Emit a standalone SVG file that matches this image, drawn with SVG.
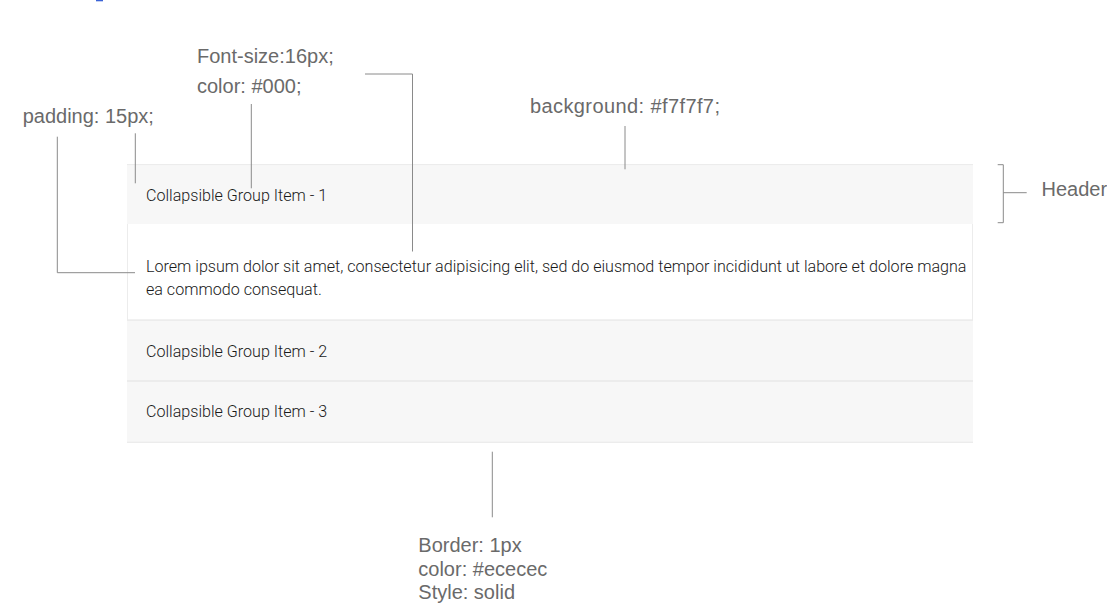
<svg xmlns="http://www.w3.org/2000/svg" width="1107" height="605" viewBox="0 0 1107 605">
<style>
.hdr{fill:#f7f7f7;}
.bd{fill:#ececec;}
.item{font-family:Roboto,"Liberation Sans",sans-serif;font-size:16.1px;font-weight:300;fill:#1a1a1a;}
.note{font-family:"Liberation Sans",Arial,sans-serif;font-size:20px;fill:#6a6a6a;}
.ln{stroke:#8a8a8a;stroke-width:1;fill:none;}
</style>
<rect x="96" y="0" width="7" height="1.3" fill="#3b63d6"/>
<g id="panel">
  <rect x="127" y="164" width="846" height="279" fill="#ffffff"/>
  <g id="item1-header">
    <rect class="bd" x="127" y="164" width="846" height="1.5"/>
    <rect class="hdr" x="127" y="165.5" width="846" height="58.5"/>
    <text class="item" x="146" y="200.5">Collapsible Group Item - 1</text>
  </g>
  <g id="item1-body">
    <rect class="bd" x="127" y="224" width="1" height="96"/>
    <rect class="bd" x="972" y="224" width="1" height="96"/>
    <text class="item" x="146" y="272">Lorem ipsum dolor sit amet, consectetur adipisicing elit, sed do eiusmod tempor incididunt ut labore et dolore magna</text>
    <text class="item" x="146" y="294.5">ea commodo consequat.</text>
  </g>
  <g id="item2-header">
    <rect class="bd" x="127" y="319.3" width="846" height="2"/>
    <rect class="hdr" x="127" y="321.3" width="846" height="58.7"/>
    <text class="item" x="146" y="356.7">Collapsible Group Item - 2</text>
  </g>
  <g id="item3-header">
    <rect class="bd" x="127" y="380" width="846" height="2"/>
    <rect class="hdr" x="127" y="382" width="846" height="59.5"/>
    <rect class="bd" x="127" y="441.5" width="846" height="1.5"/>
    <text class="item" x="146" y="417.3">Collapsible Group Item - 3</text>
  </g>
</g>
<g id="note-font">
  <text class="note" x="197" y="63.3">Font-size:16px;</text>
  <text class="note" x="197" y="92.7">color: #000;</text>
</g>
<g id="note-padding">
  <text class="note" x="22.7" y="122.7">padding: 15px;</text>
</g>
<g id="note-background">
  <text class="note" x="530" y="113" letter-spacing="0.4">background: #f7f7f7;</text>
</g>
<g id="note-header">
  <text class="note" x="1041.5" y="195.7" font-size="19.3">Header</text>
</g>
<g id="note-border">
  <text class="note" x="418.3" y="552.3">Border: 1px</text>
  <text class="note" x="418.3" y="575.8">color: #ececec</text>
  <text class="note" x="418.3" y="599.3">Style: solid</text>
</g>
<g id="connectors">
  <polyline class="ln" points="57.3,136.7 57.3,272.7 135,272.7"/>
  <line class="ln" x1="135.3" y1="133.3" x2="135.3" y2="183.3"/>
  <line class="ln" x1="251.3" y1="104" x2="251.3" y2="188.3"/>
  <polyline class="ln" points="365,74 412.5,74 412.5,251.5"/>
  <line class="ln" x1="625" y1="126" x2="625" y2="169.3"/>
  <polyline class="ln" points="997.7,164.7 1003.3,164.7 1003.3,222.7 997.7,222.7"/>
  <line class="ln" x1="1003.3" y1="192.7" x2="1026.7" y2="192.7"/>
  <line class="ln" x1="492.3" y1="451.7" x2="492.3" y2="517.3"/>
</g>
</svg>
